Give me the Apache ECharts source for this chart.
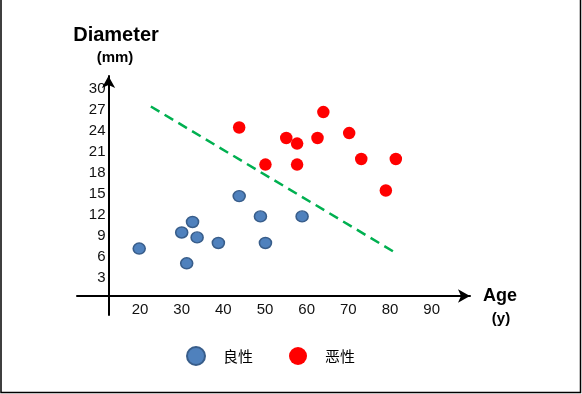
<!DOCTYPE html>
<html>
<head>
<meta charset="utf-8">
<script src="https://cdn.jsdelivr.net/npm/echarts@6/dist/echarts.min.js"></script>
<style>
html,body{margin:0;padding:0;background:#fff;}
#chart{width:582px;height:394px;}
</style>
</head>
<body>
<div id="chart"></div>
<script>
// Data (age in years, diameter in mm)
var benignAge = [19.8, 30.0, 32.6, 33.7, 31.2, 38.8, 43.8, 48.9, 50.1, 58.9];
var benignDiam = [7.2, 9.5, 11.0, 8.8, 5.1, 8.0, 14.7, 11.8, 8.0, 11.8];
var malignantAge = [43.8, 50.1, 55.1, 57.7, 57.7, 62.6, 64.0, 70.2, 73.1, 81.4, 79.0];
var malignantDiam = [24.5, 19.2, 23.0, 22.2, 19.2, 23.0, 26.7, 23.7, 20.0, 20.0, 15.5];
var boundaryAge = [22.6, 81.6];
var boundaryDiam = [27.5, 6.5];
var xTicks = [20, 30, 40, 50, 60, 70, 80, 90];
var yTicks = [3, 6, 9, 12, 15, 18, 21, 24, 27, 30];
var seriesNames = ['良性', '恶性'];

function zip(a, b) { return a.map(function (v, i) { return [v, b[i]]; }); }

var chart = echarts.init(document.getElementById('chart'), null, {renderer: 'canvas'});
var font = '"Liberation Sans", Arial, sans-serif';
chart.setOption({
  backgroundColor: '#fff',
  animation: false,
  grid: {left: 77, right: 112, top: 76, bottom: 79},
  xAxis: {
    type: 'value', min: 4.87, max: 99.2, offset: -19,
    axisLine: {onZero: false, symbol: ['none', 'arrow'], symbolSize: [10, 12], lineStyle: {color: '#000', width: 2}},
    axisTick: {show: false},
    splitLine: {show: false},
    axisLabel: {customValues: xTicks, color: '#111', fontFamily: font, fontSize: 15, margin: 6}
  },
  yAxis: {
    type: 'value', min: -2.29, max: 31.86, offset: -31.5,
    axisLine: {onZero: false, symbol: ['none', 'arrow'], symbolSize: [10, 12], lineStyle: {color: '#000', width: 2}},
    axisTick: {show: false},
    splitLine: {show: false},
    axisLabel: {customValues: yTicks, color: '#111', fontFamily: font, fontSize: 15, margin: 3}
  },
  legend: {
    left: 181, top: 341, itemWidth: 18, itemHeight: 18, itemGap: 36, icon: 'circle',
    data: seriesNames,
    textStyle: {fontFamily: '"Noto Sans CJK SC", sans-serif', fontSize: 15, color: '#000', padding: [0, 0, 0, 13]}
  },
  series: [
    {
      name: seriesNames[0], type: 'scatter', data: zip(benignAge, benignDiam),
      symbol: 'circle', symbolSize: [12, 11],
      itemStyle: {color: '#4f81bd', borderColor: '#385d8a', borderWidth: 1.5, opacity: 1}
    },
    {
      name: seriesNames[1], type: 'scatter', data: zip(malignantAge, malignantDiam),
      symbol: 'circle', symbolSize: 12.5,
      itemStyle: {color: '#ff0000', opacity: 1}
    },
    {
      name: 'boundary', type: 'line', data: zip(boundaryAge, boundaryDiam),
      symbol: 'none', silent: true,
      lineStyle: {color: '#00b050', width: 2.5, type: [10, 6]}
    }
  ],
  graphic: [
    {type: 'text', x: 116, y: 35, style: {text: 'Diameter', font: 'bold 20px ' + font, fill: '#000', textAlign: 'center', textVerticalAlign: 'middle'}},
    {type: 'text', x: 115, y: 58, style: {text: '(mm)', font: 'bold 15px ' + font, fill: '#000', textAlign: 'center', textVerticalAlign: 'middle'}},
    {type: 'text', x: 500, y: 296, style: {text: 'Age', font: 'bold 18px ' + font, fill: '#000', textAlign: 'center', textVerticalAlign: 'middle'}},
    {type: 'text', x: 501, y: 319, style: {text: '(y)', font: 'bold 15px ' + font, fill: '#000', textAlign: 'center', textVerticalAlign: 'middle'}},
    {type: 'polyline', shape: {points: [[1, 0], [1, 392.5], [580.5, 392.5], [580.5, 0]]}, style: {stroke: '#000', fill: null, lineWidth: 1.5}}
  ]
});
</script>
</body>
</html>
